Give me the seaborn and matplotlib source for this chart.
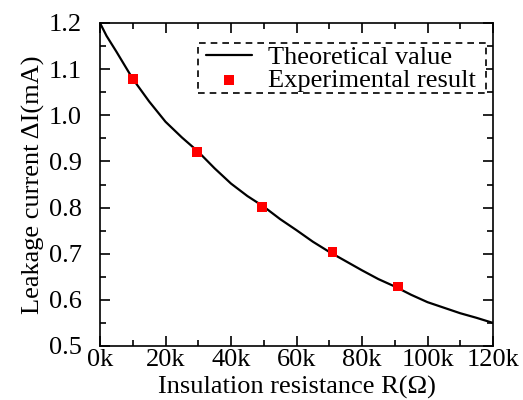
import matplotlib
matplotlib.use("Agg")
import matplotlib.pyplot as plt
import matplotlib.patches as mpatches
import seaborn as sns
import pandas as pd
from matplotlib.ticker import MultipleLocator, FuncFormatter

# Theoretical curve
theory_r = [0, 2000, 5000, 10000, 15000, 20000, 25000, 30000, 35000, 40000, 45000, 50000,
            55000, 60000, 65000, 70000, 75000, 80000, 85000, 90000, 95000, 100000,
            105000, 110000, 115000, 120000]
theory_i = [1.200, 1.172, 1.138, 1.079, 1.030, 0.986, 0.952, 0.921, 0.885, 0.852, 0.825, 0.802,
            0.775, 0.751, 0.726, 0.704, 0.684, 0.664, 0.645, 0.629, 0.611, 0.595,
            0.583, 0.571, 0.561, 0.550]

# Experimental points
exp_r = [10000, 29500, 49500, 71000, 91000]
exp_i = [1.078, 0.921, 0.801, 0.704, 0.629]

sns.set_theme(style="white")
plt.rcParams['font.family'] = ['Liberation Serif', 'DejaVu Serif']
plt.rcParams['text.color'] = 'black'
plt.rcParams['axes.labelcolor'] = 'black'

W, H = 523, 400
fig = plt.figure(figsize=(W / 100, H / 100), dpi=100)
ax = fig.add_axes([100/W, 1 - 346/H, 393/W, 323/H])

df_t = pd.DataFrame({"R": theory_r, "I": theory_i})
df_e = pd.DataFrame({"R": exp_r, "I": exp_i})

sns.lineplot(data=df_t, x="R", y="I", ax=ax, color="black", linewidth=1.6,
             label="Theoretical value")
sns.scatterplot(data=df_e, x="R", y="I", ax=ax, color="red", marker="s", s=50,
                edgecolor="none", label="Experimental result", zorder=3)

ax.set_xlim(0, 120000)
ax.set_ylim(0.5, 1.2)
ax.xaxis.set_major_locator(MultipleLocator(20000))
ax.xaxis.set_minor_locator(MultipleLocator(10000))
ax.yaxis.set_major_locator(MultipleLocator(0.1))
ax.yaxis.set_minor_locator(MultipleLocator(0.05))
ax.xaxis.set_major_formatter(FuncFormatter(lambda v, p: f"{int(round(v/1000))}k"))
ax.yaxis.set_major_formatter(FuncFormatter(lambda v, p: f"{v:.1f}"))

for sp in ax.spines.values():
    sp.set_color("black")
    sp.set_linewidth(1.2)

ax.tick_params(which="both", direction="in", top=True, right=True, bottom=True, left=True,
               colors="black", labelcolor="black", labelsize=19)
ax.tick_params(which="major", length=7, width=1.2)
ax.tick_params(which="minor", length=4, width=1.2)
ax.tick_params(axis="x", pad=2.5)
ax.tick_params(axis="y", pad=13)

ax.set_xlabel("Insulation resistance R(Ω)", fontsize=19, labelpad=3, color="black")
ax.set_ylabel("Leakage current ΔI(mA)", fontsize=19, labelpad=3, color="black")

# Legend without frame; dashed box drawn around it
leg = ax.legend(loc="upper left", bbox_to_anchor=(206/W, 1 - 46/H),
                bbox_transform=fig.transFigure, fontsize=19,
                frameon=False, handlelength=1.75, handletextpad=0.6,
                borderpad=0.0, labelspacing=-0.05, borderaxespad=0)
for t in leg.get_texts():
    t.set_color("black")

fig.canvas.draw()
bb = leg.get_window_extent()
pad_l, pad_r, pad_t, pad_b = 8, 10, 3, 1
rect = mpatches.Rectangle(((bb.x0 - pad_l) / W, (bb.y0 - pad_b) / H),
                          (bb.width + pad_l + pad_r) / W, (bb.height + pad_t + pad_b) / H,
                          transform=fig.transFigure, facecolor="white", edgecolor="black",
                          linewidth=1.2, linestyle=(0, (4, 3)), zorder=4)
ax.add_artist(rect)
rect.set_clip_on(False)
leg.set_zorder(5)

fig.savefig("out.png", dpi=100)
